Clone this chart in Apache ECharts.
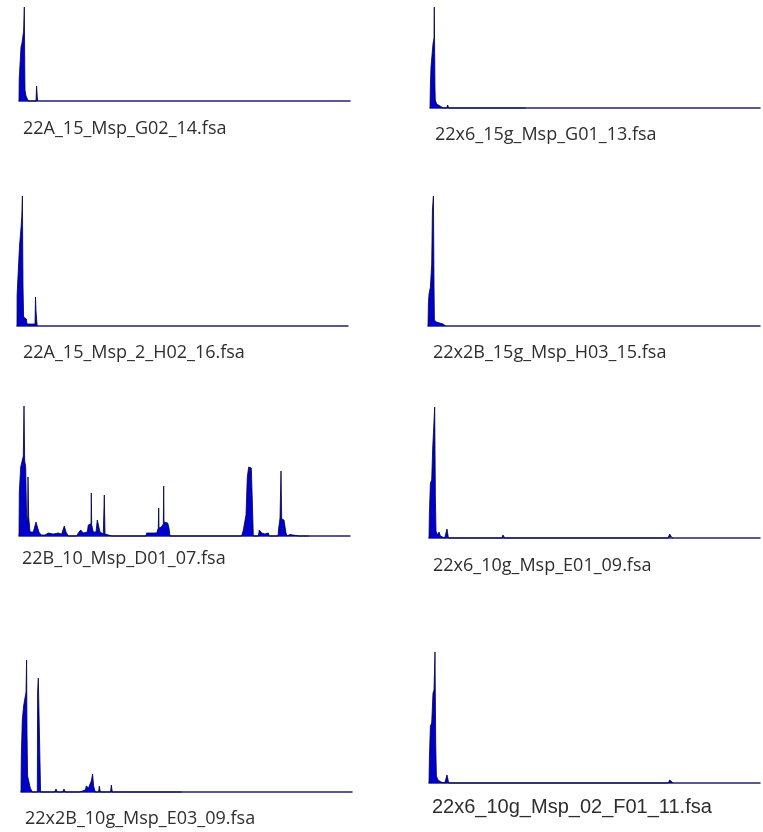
<!DOCTYPE html>
<html>
<head>
<meta charset="utf-8">
<script src="https://cdn.jsdelivr.net/npm/echarts@6/dist/echarts.min.js"></script>
<style>html,body{margin:0;padding:0;background:#fff}#c{width:763px;height:832px}</style>
</head>
<body>
<div id="c"></div>
<script>
// Sample file names (captions)
const sampleNames = [
  '22A_15_Msp_G02_14.fsa',
  '22A_15_Msp_2_H02_16.fsa',
  '22B_10_Msp_D01_07.fsa',
  '22x2B_10g_Msp_E03_09.fsa',
  '22x6_15g_Msp_G01_13.fsa',
  '22x2B_15g_Msp_H03_15.fsa',
  '22x6_10g_Msp_E01_09.fsa',
  '22x6_10g_Msp_02_F01_11.fsa'
];

// Traces: [scan position, signal intensity]
const traceG02_14 = [[0,0],[0.2,22],[1.7,24],[2,54],[3,58],[4.6,70],[5.3,94],[5.8,30],[6,11],[7,5],[8.7,4],[9.3,0],[10.7,2],[11.3,0],[17,0],[17.6,15],[18.3,4],[18.6,0]];

const traceH02_16 = [[0,0],[0.1,31],[2,33],[2.5,80],[4,98],[4.8,110],[5.4,130],[6,40],[6.6,9],[9.4,7],[10,2],[18,2],[18.5,29],[19,15],[19.6,15],[20.2,0]];

const traceD01_07 = [[0,0],[0.3,44],[1.7,69],[3,71],[4.3,80],[5,130],[5.7,75],[6.7,69],[7.7,13],[8.7,20],[9,59],[9.7,19],[11,4],[14.3,4],[16,6],[17,14],[18,12],[18.7,8],[20.3,3],[22.7,1],[24.3,3],[26,1],[29.3,3],[31,1],[34.3,2],[39.3,3],[42.7,2],[45.3,10],[47,4],[49.3,0],[57.7,0],[59.3,3],[61.7,6],[64.3,3],[68.3,4],[69.3,11],[71,9],[72,12],[72.3,43],[72.7,11],[74.3,4],[77,4],[78.3,16],[79.7,14],[81,4],[84.3,2],[85.3,41],[86,2],[87.7,0],[93,0],[94,2],[95,0],[98,0],[99,1.5],[100,0],[104,0],[105,1.5],[106,0],[127,0],[127.7,3],[134.3,3],[137.7,3],[139.3,8],[139.7,28],[140,8],[142.3,9],[144.3,12],[144.7,50],[145,14],[147,14],[148.7,13],[150,8],[151,0],[181,0],[183,2],[184,0],[190,0],[191,1.5],[192,0],[196,0],[197,2],[198,0],[203,0],[204,2],[205,0],[208,0],[209,1.5],[210,0],[222.7,0],[224.3,6],[226,4],[227,21],[228.3,59],[229.7,69],[231,70],[232.3,68],[233.3,36],[234.3,0],[239.3,0],[240.3,6],[242.7,3],[246,2],[249.3,3],[250.3,0],[259,0],[259.7,8],[261,18],[262,65],[262.7,17],[265,16],[267,3],[268,0],[270,0],[271,1.5],[272,0],[280,0],[281,1.5],[282,0],[288,0],[289,1.5],[290,0]];

const traceE03_09 = [[0,0],[0.3,36],[1.3,72],[2.6,86],[4.3,87],[5,100],[5.6,132],[6,60],[6.6,16],[8.6,16],[9.3,4],[10.6,2],[11.3,0],[16.3,0],[16.6,100],[17.3,114],[18.3,116],[19.3,112],[19.6,0],[33.6,0],[35,3],[36.3,0],[41.6,0],[43,3],[44.3,0],[58.6,0],[60,2],[64.3,2],[65.3,6],[67.6,4],[68.6,7],[70.3,11],[71.6,18],[72.6,6],[74.3,0],[77.6,0],[78.3,6],[79.3,0],[89.6,0],[90.3,7],[91.3,0],[140.6,0],[142,2],[144,0],[157.3,0],[158.6,2],[160.6,0]];

const traceG01_13 = [[0,0],[0.3,19],[1,41],[2.3,41],[3,64],[4,70],[4.3,101],[5,20],[5.3,8],[6.7,4],[8.3,3],[10,2],[11.7,2],[13.3,0],[16.7,0],[17.7,3],[18.7,0],[72,0],[73,2],[74,0],[76,0],[77,2],[78,0],[84,0],[85,1],[86,0],[94,0],[95,1.5],[96,0]];

const traceH03_15 = [[0,0],[0.4,22],[1,32],[2.4,39],[3.7,62],[4.4,116],[5.4,130],[6,40],[6.4,6],[8.4,4],[11.7,3],[15,2],[17.7,0]];

const traceE01_09 = [[0,0],[0.4,25],[1.4,55],[2.7,58],[3.7,90],[4.7,92],[5.7,131],[6.4,40],[7,7],[8.4,3],[10,6],[11.4,2],[13,2],[15.7,0],[17,0],[18,9],[19.4,0],[54.4,0],[55.7,2],[57,0],[72.7,0],[74,3],[75.7,0],[239,0],[240.7,4],[242.4,1],[244,0]];

const traceF01_11 = [[0,0],[0.4,25],[1.4,57],[2.7,60],[4,90],[5,93],[6,131],[6.7,40],[7.4,7],[9,3],[10.7,5],[12,1],[15.7,0],[17,0],[18,8],[19.7,0],[54.4,0],[55.7,1],[57,0],[72.7,0],[74,2],[75.7,0],[239.3,0],[240.7,3],[242.7,1],[244,0]];

const traces = [traceG02_14, traceH02_16, traceD01_07, traceE03_09,
                traceG01_13, traceH03_15, traceE01_09, traceF01_11];

// Layout (pixels)
const panels = [
  {left:19,  top:7,   width:331, height:94,  capX:23,  capY:129, font:'18px "Open Sans", sans-serif'},
  {left:17,  top:196, width:331, height:130, capX:23,  capY:353, font:'18px "Open Sans", sans-serif'},
  {left:19,  top:406, width:331, height:130, capX:22,  capY:559, font:'18px "Open Sans", sans-serif'},
  {left:21,  top:660, width:331, height:132, capX:25,  capY:819, font:'18px "Open Sans", sans-serif'},
  {left:430, top:7,   width:330, height:101, capX:435, capY:135, font:'18px "Open Sans", sans-serif'},
  {left:428, top:196, width:332, height:130, capX:433, capY:353, font:'18px "Open Sans", sans-serif'},
  {left:429, top:407, width:331, height:131, capX:433, capY:566, font:'18px "Open Sans", sans-serif'},
  {left:429, top:652, width:331, height:131, capX:432, capY:807, font:'20px "Liberation Sans", Arial, sans-serif'}
];

const chart = echarts.init(document.getElementById('c'), null, {renderer:'canvas'});
const option = {
  backgroundColor: '#ffffff',
  animation: false,
  grid: panels.map(p => ({left:p.left, top:p.top, width:p.width, height:p.height, containLabel:false})),
  xAxis: panels.map((p, i) => ({
    type:'value', gridIndex:i, min:0, max:331,
    axisLine:{show:true, onZero:false, lineStyle:{color:'#24246c', width:1.5}},
    axisTick:{show:false}, axisLabel:{show:false}, splitLine:{show:false}
  })),
  yAxis: panels.map((p, i) => ({
    type:'value', gridIndex:i, min:0, max:'dataMax', show:false,
    splitLine:{show:false}
  })),
  series: traces.map((t, i) => ({
    type:'line', xAxisIndex:i, yAxisIndex:i, data:t,
    symbol:'none', showSymbol:false, silent:true, clip:false,
    lineStyle:{color:'#00003c', width:0.8},
    areaStyle:{color:'#0000cc', opacity:1}
  })),
  graphic: panels.map((p, i) => ({
    type:'text', x:p.capX, y:p.capY, silent:true,
    style:{text:sampleNames[i], x:0, y:0, fill:'#2e2e2e', font:p.font,
           textAlign:'left', textVerticalAlign:'middle', verticalAlign:'middle'}
  }))
};
chart.setOption(option);
</script>
</body>
</html>
